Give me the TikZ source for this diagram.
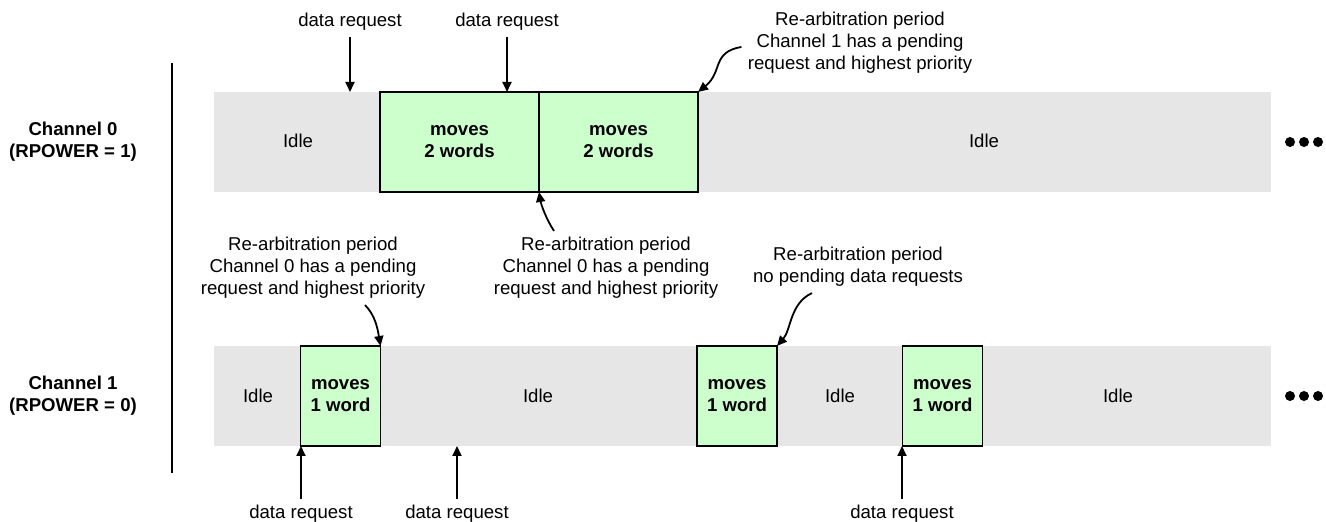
\documentclass[tikz,border=0pt]{standalone}
\usepackage{fontspec}
\setmainfont{Liberation Sans}
\usepackage{tikz}
\usetikzlibrary{arrows.meta, positioning}
\definecolor{bandgray}{HTML}{E6E6E6}
\definecolor{xfergreen}{HTML}{CCFFCC}
\newcommand{\diagfont}{\fontsize{9.3}{11}\selectfont}
\tikzset{
  band/.style={rectangle, fill=bandgray, minimum width=528.5pt,
    minimum height=50pt, inner sep=0pt, outer sep=0pt},
  xfer/.style={rectangle, draw=black, line width=0.9pt, fill=xfergreen,
    font=\diagfont\bfseries, align=center, minimum height=50pt,
    inner sep=0pt, outer sep=0pt},
  chan/.style={font=\diagfont\bfseries, align=center},
  idle/.style={font=\diagfont},
  note/.style={font=\diagfont, align=center, inner sep=3pt},
  fleche/.style={-{Triangle[length=5pt, width=4.5pt]}, line width=0.9pt},
  dot/.style={circle, fill=black, minimum size=5pt, inner sep=0pt}
}

\begin{document}
\begin{tikzpicture}[x=0.5pt, y=-0.5pt]
    \useasboundingbox (0,0) rectangle (1326,522);

    % channel names and axis
    \node[chan] (ch0) at (73,142) {Channel 0\\(RPOWER = 1)};
    \node[chan] (ch1) at (73,396) {Channel 1\\(RPOWER = 0)};
    \coordinate (axtop) at (172,63);
    \coordinate (axbot) at (172,473);
    \draw[line width=0.9pt] (axtop) -- (axbot);

    % time bands
    \node[band] (band0) at (742.5,142) {};
    \node[band] (band1) at (742.5,396) {};

    % channel 0
    \node[idle] (idle0a) at (298,141) {Idle};
    \node[xfer, minimum width=79.5pt] (mv0a) at (459.5,142) {moves\\2 words};
    \node[xfer, minimum width=79.5pt, right=0pt of mv0a] (mv0b) {moves\\2 words};
    \node[idle] (idle0b) at (984,141) {Idle};

    % channel 1
    \node[idle] (idle1a) at (258,396) {Idle};
    \node[xfer, minimum width=40pt] (mv1a) at (340.5,396) {moves\\1 word};
    \node[idle] (idle1b) at (538,396) {Idle};
    \node[xfer, minimum width=40pt] (mv1b) at (737,396) {moves\\1 word};
    \node[idle] (idle1c) at (840,396) {Idle};
    \node[xfer, minimum width=40pt] (mv1c) at (942.5,396) {moves\\1 word};
    \node[idle] (idle1d) at (1118,396) {Idle};

    \foreach \dx in {1290,1304,1318} {
      \node[dot] at (\dx,142) {};
      \node[dot] at (\dx,396) {};
    }

    % data requests
    \node[note] (req0a) at (350,22) {data request};
    \node[note] (req0b) at (507,22) {data request};
    \node[note] (req1a) at (301,514) {data request};
    \node[note] (req1b) at (457,514) {data request};
    \node[note] (req1c) at (902,514) {data request};

    \draw[fleche] (req0a) -- (req0a |- band0.north);
    \draw[fleche] (req0b) -- (req0b |- mv0a.north);
    \draw[fleche] (req1a) -- (req1a |- band1.south);
    \draw[fleche] (req1b) -- (req1b |- band1.south);
    \draw[fleche] (req1c) -- (req1c |- band1.south);

    % re-arbitration notes
    \node[note] (rearb0) at (860,43) {Re-arbitration period\\Channel 1 has a pending\\request and highest priority};
    \node[note] (rearb1) at (606,268) {Re-arbitration period\\Channel 0 has a pending\\request and highest priority};
    \node[note] (rearb2) at (313,268) {Re-arbitration period\\Channel 0 has a pending\\request and highest priority};
    \node[note] (rearb3) at (858,267) {Re-arbitration period\\no pending data requests};

    \draw[fleche] ([yshift=-2pt]rearb0.west) .. controls +(-30,5) and +(25,-20) .. (mv0b.north east);
    \draw[fleche] ([xshift=-26pt]rearb1.north) .. controls +(-8,-12) and +(2,12) .. (mv0a.south east);
    \draw[fleche] ([xshift=26pt]rearb2.south) .. controls +(10,10) and +(-3,-18) .. (mv1a.north east);
    \draw[fleche] ([xshift=-23pt]rearb3.south) .. controls +(-22,10) and +(14,-16) .. (mv1b.north east);
  \end{tikzpicture}
\end{document}
